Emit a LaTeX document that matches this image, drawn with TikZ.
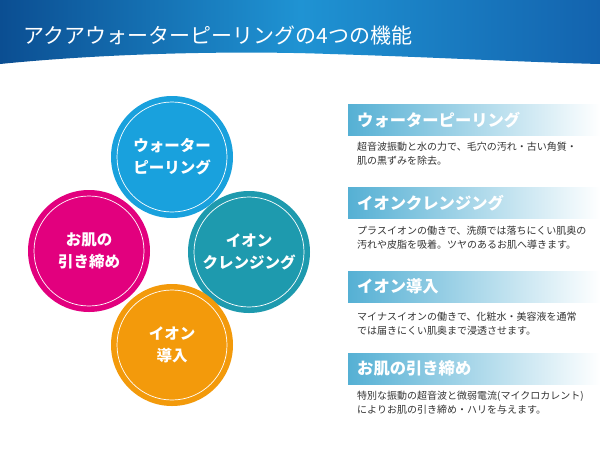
\documentclass[tikz,border=0pt]{standalone}
\usepackage{fontspec}
\setmainfont{Noto Sans CJK JP}
\definecolor{hdark}{HTML}{0B4E92}
\definecolor{hlight}{HTML}{1F93D3}
\definecolor{hright}{HTML}{1363AE}
\definecolor{wpblue}{HTML}{19A1DD}
\definecolor{icteal}{HTML}{1E9AAE}
\definecolor{hkpink}{HTML}{E2007E}
\definecolor{idorange}{HTML}{F39A0B}
\definecolor{barblue}{HTML}{55B0D4}
\definecolor{txtgray}{HTML}{333333}

\begin{document}
\begin{tikzpicture}[x=1pt, y=-1pt,
  bubble/.style={circle, minimum size=122pt, inner sep=0pt, fill=#1, text=white,
    font=\fontsize{15.5}{22}\selectfont\bfseries, align=center},
  ring/.style={draw=white, line width=0.7pt},
  bar/.style={anchor=north west, minimum height=31pt, text width=234pt, inner xsep=9pt,
    inner ysep=0pt, left color=barblue, right color=white, text=white,
    font=\fontsize{16.3}{16}\selectfont\bfseries, align=left},
  desc/.style={anchor=north west, inner sep=0pt, text=txtgray,
    font=\fontsize{10}{13.5}\selectfont, align=left}]
  % Fix the page size
  \useasboundingbox[fill=white] (0,0) rectangle (600,448);

  % Header band with the wave
  \shade[left color=hdark, right color=hright, middle color=hlight]
    (0,0) -- (600,0) -- (600,64) .. controls (520,62) and (430,57) .. (330,54)
    .. controls (250,51) and (120,52) .. (0,64) -- cycle;
  \node[anchor=west, text=white, font=\fontsize{21}{21}\selectfont] (title) at (20,36)
    {アクアウォーターピーリングの4つの機能};

  % The four circles
  \node[bubble=wpblue] (wp) at (172,157) {ウォーター\\ピーリング};
  \node[bubble=hkpink] (hk) at (89,251) {お肌の\\引き締め};
  \node[bubble=icteal] (ic) at (249,252) {イオン\\クレンジング};
  \node[bubble=idorange] (id) at (172,345) {イオン\\導入};
  \foreach \c in {wp,hk,ic,id}
    \draw[ring] (\c.center) circle (55);

  % Right hand panels
  \node[bar] (bar1) at (348,104) {ウォーターピーリング};
  \node[desc] (desc1) at (357,142)
    {超音波振動と水の力で、毛穴の汚れ・古い角質・\\肌の黒ずみを除去。};
  \node[bar] (bar2) at (348,187) {イオンクレンジング};
  \node[desc] (desc2) at (357,226)
    {プラスイオンの働きで、洗顔では落ちにくい肌奥の\\汚れや皮脂を吸着。ツヤのあるお肌へ導きます。};
  \node[bar] (bar3) at (348,271) {イオン導入};
  \node[desc] (desc3) at (357,312)
    {マイナスイオンの働きで、化粧水・美容液を通常\\では届きにくい肌奥まで浸透させます。};
  \node[bar] (bar4) at (348,353) {お肌の引き締め};
  \node[desc] (desc4) at (357,391)
    {特別な振動の超音波と微弱電流(マイクロカレント)\\によりお肌の引き締め・ハリを与えます。};
\end{tikzpicture}
\end{document}
